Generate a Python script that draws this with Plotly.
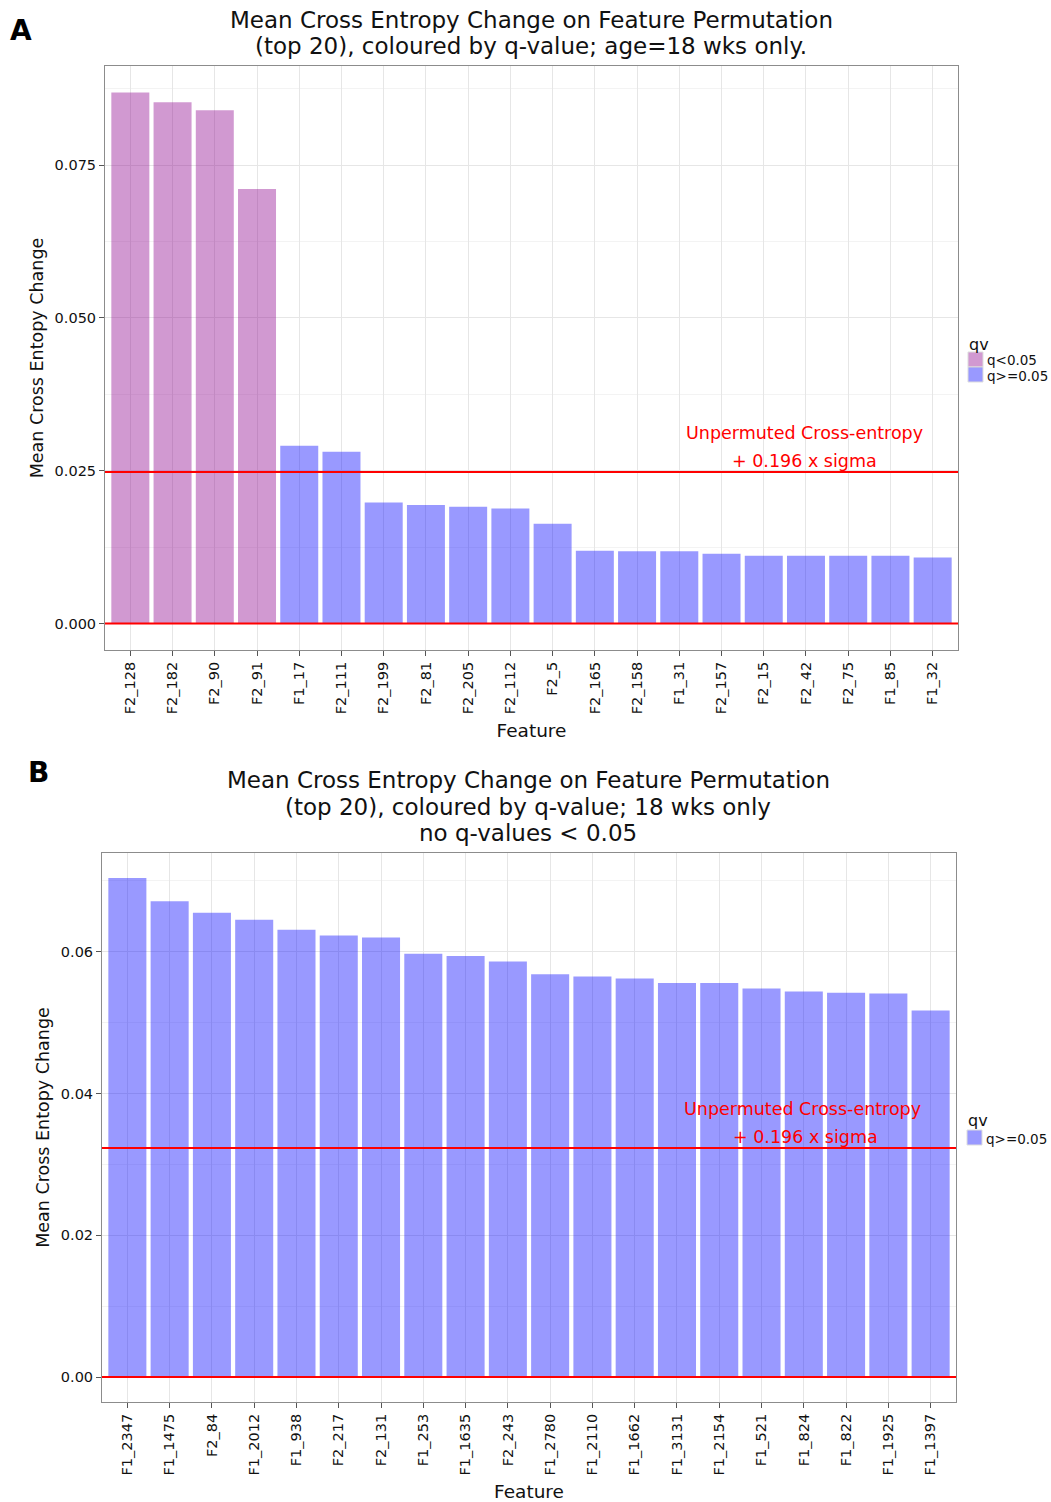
import plotly.graph_objects as go

W, H = 1051, 1502

# ---- Panel A data: age = 18 wks ----
features_a = ["F2_128", "F2_182", "F2_90", "F2_91", "F1_17", "F2_111", "F2_199",
              "F2_81", "F2_205", "F2_112", "F2_5", "F2_165", "F2_158", "F1_31",
              "F2_157", "F2_15", "F2_42", "F2_75", "F1_85", "F1_32"]
values_a = [0.0869, 0.0853, 0.0840, 0.0711, 0.0291, 0.0281, 0.0198,
            0.0194, 0.0191, 0.0188, 0.0163, 0.0119, 0.0118, 0.0118,
            0.0114, 0.0111, 0.0111, 0.0111, 0.0111, 0.0108]
qgroup_a = ["q<0.05"] * 4 + ["q>=0.05"] * 16
threshold_a = 0.0248

# ---- Panel B data: 18 wks only ----
features_b = ["F1_2347", "F1_1475", "F2_84", "F1_2012", "F1_938", "F2_217", "F2_131",
              "F1_253", "F1_1635", "F2_243", "F1_2780", "F1_2110", "F1_1662", "F1_3131",
              "F1_2154", "F1_521", "F1_824", "F1_822", "F1_1925", "F1_1397"]
values_b = [0.0704, 0.0671, 0.0655, 0.0645, 0.0631, 0.0623, 0.0620,
            0.0597, 0.0594, 0.0586, 0.0568, 0.0565, 0.0562, 0.0556,
            0.0556, 0.0548, 0.0544, 0.0542, 0.0541, 0.0517]
qgroup_b = ["q>=0.05"] * 20
threshold_b = 0.0323

titles_a = ["Mean Cross Entropy Change on Feature Permutation",
            "(top 20), coloured by q-value; age=18 wks only."]
titles_b = ["Mean Cross Entropy Change on Feature Permutation",
            "(top 20), coloured by q-value; 18 wks only",
            "no q-values < 0.05"]
threshold_label = ["Unpermuted Cross-entropy", "+ 0.196 x sigma"]
legend_title = "qv"
group_order = ["q<0.05", "q>=0.05"]

group_colors = {"q<0.05": "rgba(139,0,139,0.4)", "q>=0.05": "rgba(0,0,255,0.4)"}

FONT = "DejaVu Sans"
GRID = "#E6E6E6"
MINOR = "#F3F3F3"
BORDER = "#8C8C8C"


def px_x(p):
    return p / W


def px_y(p):
    return 1 - p / H


fig = go.Figure()


def add_bars(features, values, groups, xa, ya):
    for g in group_order:
        xs = [f for f, gg in zip(features, groups) if gg == g]
        ys = [v for v, gg in zip(values, groups) if gg == g]
        if not xs:
            continue
        fig.add_trace(go.Bar(
            x=xs, y=ys, name=g, xaxis=xa, yaxis=ya,
            marker=dict(color=group_colors[g], line=dict(width=0)),
            width=0.9, showlegend=False,
        ))


add_bars(features_a, values_a, qgroup_a, "x", "y")
add_bars(features_b, values_b, qgroup_b, "x2", "y2")


def xaxis_cfg(features, domain, anchor):
    return dict(
        domain=domain, anchor=anchor, type="category",
        categoryorder="array", categoryarray=features,
        range=[-0.6, len(features) - 0.4],
        showgrid=True, gridcolor=GRID, gridwidth=1,
        showline=True, linecolor=BORDER, linewidth=1, mirror=True,
        ticks="outside", ticklen=5, tickcolor="#555555",
        tickangle=-90, tickfont=dict(family=FONT, size=14.5, color="#111111"),
        title=dict(text="Feature", font=dict(family=FONT, size=18.5, color="#111111"),
                   standoff=10),
        zeroline=False, fixedrange=True,
    )


def yaxis_cfg(domain, anchor, rng, dtick, fmt):
    return dict(
        domain=domain, anchor=anchor, range=rng,
        tick0=0, dtick=dtick, tickformat=fmt,
        showgrid=True, gridcolor=GRID, gridwidth=1,
        minor=dict(dtick=dtick / 2, tick0=0, showgrid=True, gridcolor=MINOR, gridwidth=1),
        showline=True, linecolor=BORDER, linewidth=1, mirror=True,
        ticks="outside", ticklen=5, tickcolor="#555555",
        tickfont=dict(family=FONT, size=14.5, color="#111111"),
        title=dict(text="Mean Cross Entopy Change",
                   font=dict(family=FONT, size=17.5, color="#111111"), standoff=6),
        zeroline=False,
    )


# expand y range by 5% of the data span, as in the usual ggplot scale
ya_max = max(values_a) * 1.05
ya_min = -max(values_a) * 0.05
yb_max = max(values_b) * 1.05
yb_min = -max(values_b) * 0.05

fig.update_layout(
    width=W, height=H,
    margin=dict(l=0, r=0, t=0, b=0, autoexpand=False),
    paper_bgcolor="white", plot_bgcolor="white",
    barmode="overlay", showlegend=False,
    font=dict(family=FONT, color="#111111"),
    xaxis=xaxis_cfg(features_a, [px_x(105), px_x(958)], "y"),
    yaxis=yaxis_cfg([px_y(650), px_y(66)], "x", [ya_min, ya_max], 0.025, ".3f"),
    xaxis2=xaxis_cfg(features_b, [px_x(102), px_x(956)], "y2"),
    yaxis2=yaxis_cfg([px_y(1402), px_y(853)], "x2", [yb_min, yb_max], 0.02, ".2f"),
)

# horizontal reference lines: zero and the threshold
for xa, ya, thr in [("x", "y", threshold_a), ("x2", "y2", threshold_b)]:
    for val in (0.0, thr):
        fig.add_shape(type="line", xref=f"{xa} domain", yref=ya,
                      x0=0, x1=1, y0=val, y1=val,
                      line=dict(color="#FF0000", width=2), layer="above")

# threshold labels
for xa, ya, thr, xpos in [("x", "y", threshold_a, [0.8206, 0.8206]),
                           ("x2", "y2", threshold_b, [0.8197, 0.8232])]:
    for line, shift, xp in zip(threshold_label, [39, 11], xpos):
        fig.add_annotation(text=line, xref=f"{xa} domain", yref=ya,
                           x=xp, y=thr, yshift=shift, showarrow=False,
                           xanchor="center", yanchor="middle",
                           font=dict(family=FONT, size=17.5, color="#FF0000"))

# panel titles
for lines, ys, xc in [(titles_a, [20, 46], 531), (titles_b, [780, 807, 833], 528)]:
    for t, yp in zip(lines, ys):
        fig.add_annotation(text=t, xref="paper", yref="paper",
                           x=px_x(xc), y=px_y(yp), showarrow=False,
                           xanchor="center", yanchor="middle",
                           font=dict(family=FONT, size=23, color="#111111"))

# panel letters
for letter, xp, yp in [("A", 21, 30), ("B", 38, 772)]:
    fig.add_annotation(text=f"<b>{letter}</b>", xref="paper", yref="paper",
                       x=px_x(xp), y=px_y(yp), showarrow=False,
                       xanchor="center", yanchor="middle",
                       font=dict(family=FONT, size=28, color="#000000"))


# compact key for the q-value fill: title, then a swatch + label per group
def draw_key(groups, left, title_y, first_top, key_h=15, key_w=15):
    present = [g for g in group_order if g in groups]
    fig.add_annotation(text=legend_title, xref="paper", yref="paper",
                       x=px_x(left - 1), y=px_y(title_y), showarrow=False,
                       xanchor="left", yanchor="middle",
                       font=dict(family=FONT, size=16, color="#111111"))
    for i, g in enumerate(present):
        top = first_top + i * key_h
        fig.add_shape(type="rect", xref="paper", yref="paper",
                      x0=px_x(left), x1=px_x(left + key_w),
                      y0=px_y(top + key_h), y1=px_y(top),
                      fillcolor=group_colors[g],
                      line=dict(color="#DDDDDD", width=1))
        fig.add_annotation(text=g, xref="paper", yref="paper",
                           x=px_x(left + key_w + 2), y=px_y(top + key_h / 2 + 1),
                           showarrow=False, xanchor="left", yanchor="middle",
                           font=dict(family=FONT, size=13.5, color="#111111"))


draw_key(set(qgroup_a), 968, 344, 352)
draw_key(set(qgroup_b), 967, 1120, 1130)

fig.write_html("out.html")
